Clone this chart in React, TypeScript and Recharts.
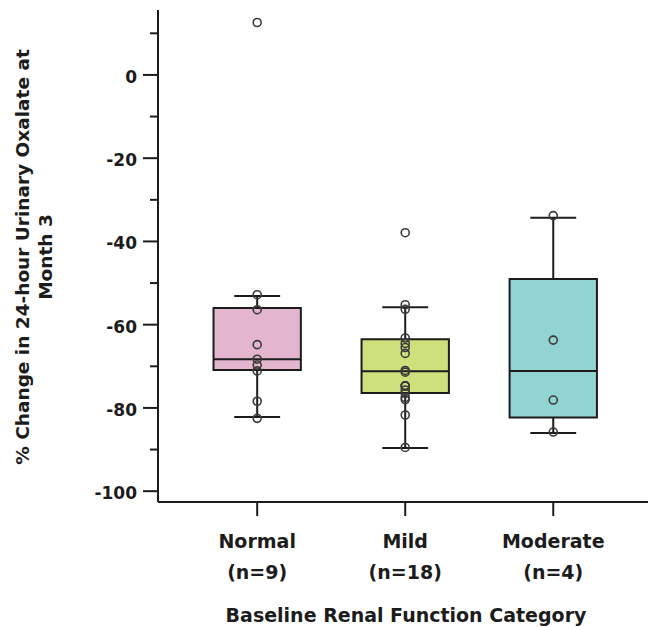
import React from 'react';
import { ComposedChart, Scatter, XAxis, YAxis, ReferenceArea, ReferenceLine } from 'recharts';

// categories and box statistics
const categories = ['Normal', 'Mild', 'Moderate'];
const counts = ['(n=9)', '(n=18)', '(n=4)'];
const boxColors = ['#e3b5cf', '#cde07b', '#92d4d2'];

const whiskerLow = [-82.2, -89.6, -86.0];
const boxQ1 = [-70.9, -76.4, -82.3];
const boxMedian = [-68.3, -71.2, -71.1];
const boxQ3 = [-56.0, -63.5, -49.0];
const whiskerHigh = [-53.1, -55.8, -34.3];

// individual patients
const normalValues = [12.6, -52.8, -56.4, -64.8, -68.3, -69.7, -71.1, -78.4, -82.5];
const mildValues = [
  -37.9, -55.2, -56.3, -63.2, -64.5, -65.5, -66.9, -71.0, -71.4,
  -74.7, -74.7, -74.7, -75.7, -76.5, -77.5, -78.0, -81.7, -89.5,
];
const moderateValues = [-33.8, -63.7, -78.1, -85.8];

const yTicks = [-100, -90, -80, -70, -60, -50, -40, -30, -20, -10, 0, 10];
const xTicks = [1, 2, 3];

const BOX_HALF = 0.295;
const CAP_HALF = 0.155;
const FONT = '"DejaVu Sans", Verdana, sans-serif';
const INK = '#1c1c1c';

const groups = [normalValues, mildValues, moderateValues];

const YTick = (props: any) => {
  const { x, y, payload } = props;
  const axisX = x + 14 + 4;
  const major = payload.value % 20 === 0;
  return (
    <g>
      <line x1={axisX - (major ? 15 : 8)} x2={axisX} y1={y} y2={y} stroke={INK} strokeWidth={2} />
      {major && (
        <text x={axisX - 21} y={y + 2} textAnchor="end" dominantBaseline="central"
          fontFamily={FONT} fontWeight="bold" fontSize={17} fill={INK}>
          {payload.value}
        </text>
      )}
    </g>
  );
};

const XTick = (props: any) => {
  const { x, y, payload } = props;
  const i = xTicks.indexOf(payload.value);
  return (
    <g>
      <text x={x} y={y + 21} textAnchor="middle" dominantBaseline="central"
        fontFamily={FONT} fontWeight="bold" fontSize={19} fill={INK}>
        {categories[i]}
      </text>
      <text x={x} y={y + 52} textAnchor="middle" dominantBaseline="central"
        fontFamily={FONT} fontWeight="bold" fontSize={19} fill={INK}>
        {counts[i]}
      </text>
    </g>
  );
};

const Dot = (props: any) => (
  <circle cx={props.cx} cy={props.cy} r={4} fill="none" stroke="#3a3a3a" strokeWidth={1.6} />
);

export default function App() {
  return (
    <div style={{ position: 'absolute', left: 0, top: 0, background: '#fff' }}>
      <ComposedChart width={648} height={627} margin={{ top: 10, right: 0, bottom: 0, left: 0 }}>
        <XAxis
          type="number"
          dataKey="x"
          domain={[0.33, 3.64]}
          ticks={xTicks}
          allowDataOverflow
          height={125}
          tickSize={14}
          tickMargin={4}
          tick={<XTick />}
          tickLine={{ stroke: INK, strokeWidth: 2 }}
          axisLine={{ stroke: INK, strokeWidth: 2 }}
          label={{
            content: () => (
              <text x={406} y={615} textAnchor="middle" dominantBaseline="central"
                fontFamily={FONT} fontWeight="bold" fontSize={19} fill={INK}>
                Baseline Renal Function Category
              </text>
            ),
          }}
        />
        <YAxis
          type="number"
          dataKey="y"
          domain={[-102.6, 15.6]}
          ticks={yTicks}
          interval={0}
          allowDataOverflow
          width={158}
          tickSize={14}
          tickMargin={4}
          tickLine={false}
          tick={<YTick />}
          axisLine={{ stroke: INK, strokeWidth: 2 }}
          label={{
            content: () => (
              <text transform="translate(0,257) rotate(-90)" textAnchor="middle"
                fontFamily={FONT} fontWeight="bold" fontSize={18.5} fill={INK}>
                <tspan x={0} y={29}>% Change in 24-hour Urinary Oxalate at</tspan>
                <tspan x={0} y={52}>Month 3</tspan>
              </text>
            ),
          }}
        />

        {categories.map((c, i) => {
          const cx = xTicks[i];
          return (
            <React.Fragment key={c}>
              <ReferenceLine segment={[{ x: cx, y: boxQ3[i] }, { x: cx, y: whiskerHigh[i] }]}
                stroke={INK} strokeWidth={2} />
              <ReferenceLine segment={[{ x: cx, y: boxQ1[i] }, { x: cx, y: whiskerLow[i] }]}
                stroke={INK} strokeWidth={2} />
              <ReferenceLine segment={[{ x: cx - CAP_HALF, y: whiskerHigh[i] }, { x: cx + CAP_HALF, y: whiskerHigh[i] }]}
                stroke={INK} strokeWidth={2} />
              <ReferenceLine segment={[{ x: cx - CAP_HALF, y: whiskerLow[i] }, { x: cx + CAP_HALF, y: whiskerLow[i] }]}
                stroke={INK} strokeWidth={2} />
              <ReferenceArea x1={cx - BOX_HALF} x2={cx + BOX_HALF} y1={boxQ1[i]} y2={boxQ3[i]}
                fill={boxColors[i]} fillOpacity={1} stroke={INK} strokeWidth={2} />
              <ReferenceLine segment={[{ x: cx - BOX_HALF, y: boxMedian[i] }, { x: cx + BOX_HALF, y: boxMedian[i] }]}
                stroke={INK} strokeWidth={2} />
            </React.Fragment>
          );
        })}

        {groups.map((vals, i) => (
          <Scatter
            key={categories[i]}
            data={vals.map((v) => ({ x: xTicks[i], y: v }))}
            shape={<Dot />}
            isAnimationActive={false}
          />
        ))}
      </ComposedChart>
    </div>
  );
}
